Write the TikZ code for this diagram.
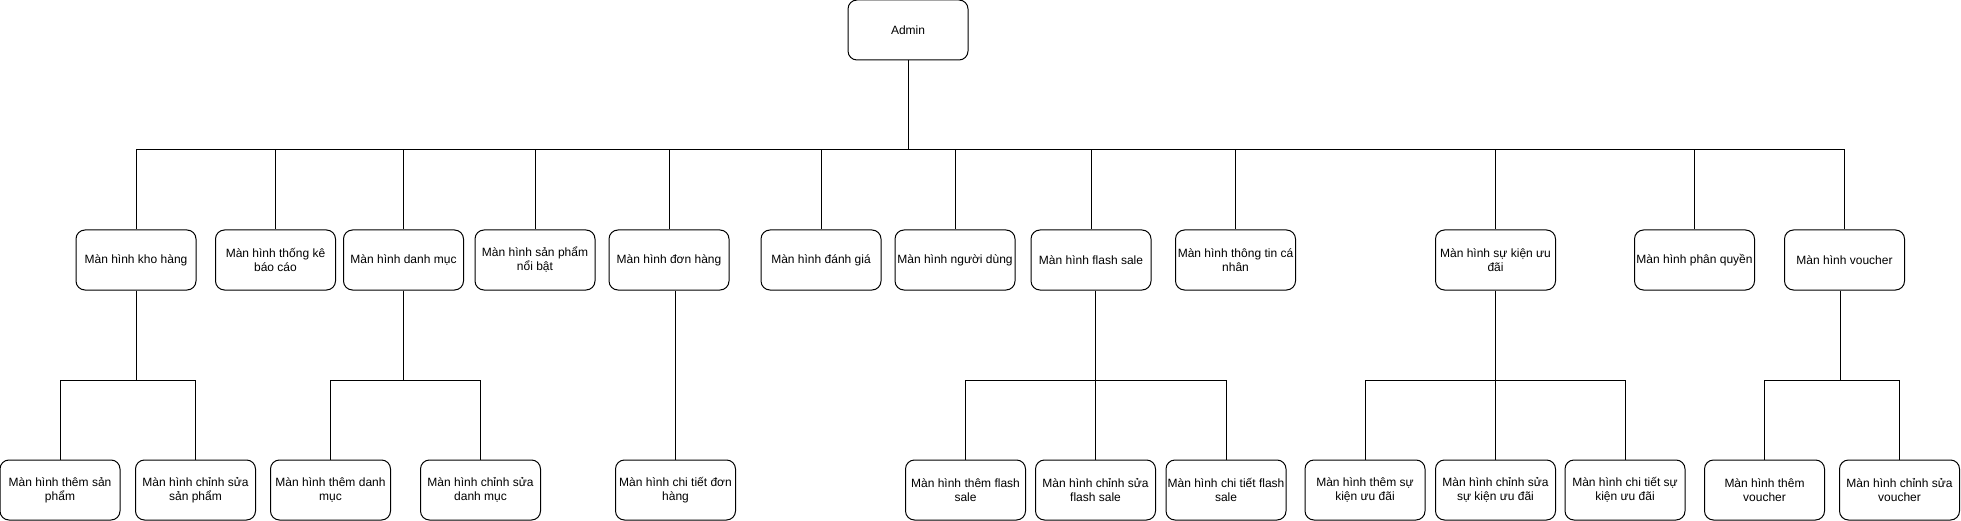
\documentclass[tikz,border=0pt]{standalone}
\usepackage{fontspec}
\setmainfont{Liberation Sans}
\begin{document}
\begin{tikzpicture}[x=1pt,y=-1pt,
  box/.style={draw=black,line width=1pt,rounded corners=9pt,minimum width=120pt,minimum height=60pt,
    inner sep=0pt,align=center,font=\fontsize{12pt}{14pt}\selectfont,fill=white},
  link/.style={draw=black,line width=1pt}]
\useasboundingbox (0,0) rectangle (1961,521);
% top
\node[box] (admin) at (908,30) {Admin};
% middle row
\node[box] (kho) at (136,260) {Màn hình kho hàng};
\node[box] (tk) at (275.5,260) {Màn hình thống kê\\báo cáo};
\node[box] (dm) at (403.5,260) {Màn hình danh mục};
\node[box] (sp) at (535,260) {Màn hình sản phẩm\\nổi bật};
\node[box] (dh) at (669,260) {Màn hình đơn hàng};
\node[box] (dg) at (821,260) {Màn hình đánh giá};
\node[box] (nd) at (955,260) {Màn hình người dùng};
\node[box] (fs) at (1091,260) {Màn hình flash sale};
\node[box] (tt) at (1235.5,260) {Màn hình thông tin cá\\nhân};
\node[box] (sk) at (1495.5,260) {Màn hình sự kiện ưu\\đãi};
\node[box] (pq) at (1694.5,260) {Màn hình phân quyền};
\node[box] (vc) at (1844.5,260) {Màn hình voucher};
% bottom row
\node[box] (tsp) at (60,490) {Màn hình thêm sản\\phẩm};
\node[box] (csp) at (195.5,490) {Màn hình chỉnh sửa\\sản phẩm};
\node[box] (tdm) at (330.5,490) {Màn hình thêm danh\\mục};
\node[box] (cdm) at (480.5,490) {Màn hình chỉnh sửa\\danh mục};
\node[box] (ctdh) at (675.5,490) {Màn hình chi tiết đơn\\hàng};
\node[box] (tfs) at (965.5,490) {Màn hình thêm flash\\sale};
\node[box] (cfs) at (1095.5,490) {Màn hình chỉnh sửa\\flash sale};
\node[box] (ctfs) at (1226,490) {Màn hình chi tiết flash\\sale};
\node[box] (tsk) at (1365,490) {Màn hình thêm sự\\kiện ưu đãi};
\node[box] (csk) at (1495.5,490) {Màn hình chỉnh sửa\\sự kiện ưu đãi};
\node[box] (ctsk) at (1625,490) {Màn hình chi tiết sự\\kiện ưu đãi};
\node[box] (tvc) at (1764.5,490) {Màn hình thêm\\voucher};
\node[box] (cvc) at (1899.5,490) {Màn hình chỉnh sửa\\voucher};
% bus levels
\coordinate (busA) at (0,150);
\coordinate (busB) at (0,380);
% admin to middle row
\foreach \c in {kho,tk,dm,sp,dh,dg,nd,fs,tt,sk,pq,vc}
  \draw[link] (admin.south) -- (admin.south |- busA) -| (\c.north);
% middle to bottom
\foreach \p/\c in {kho/tsp,kho/csp,dm/tdm,dm/cdm,sk/tsk,sk/csk,sk/ctsk}
  \draw[link] (\p.south) -- (\p.south |- busB) -| (\c.north);
\foreach \c in {tfs,cfs,ctfs}
  \draw[link] (cfs.north |- fs.south) -- (cfs.north |- busB) -| (\c.north);
\coordinate (vcdown) at ([xshift=-4.5pt]vc.south);
\foreach \c in {tvc,cvc}
  \draw[link] (vcdown) -- (vcdown |- busB) -| (\c.north);
\draw[link] (ctdh.north |- dh.south) -- (ctdh.north);
\end{tikzpicture}
\end{document}
